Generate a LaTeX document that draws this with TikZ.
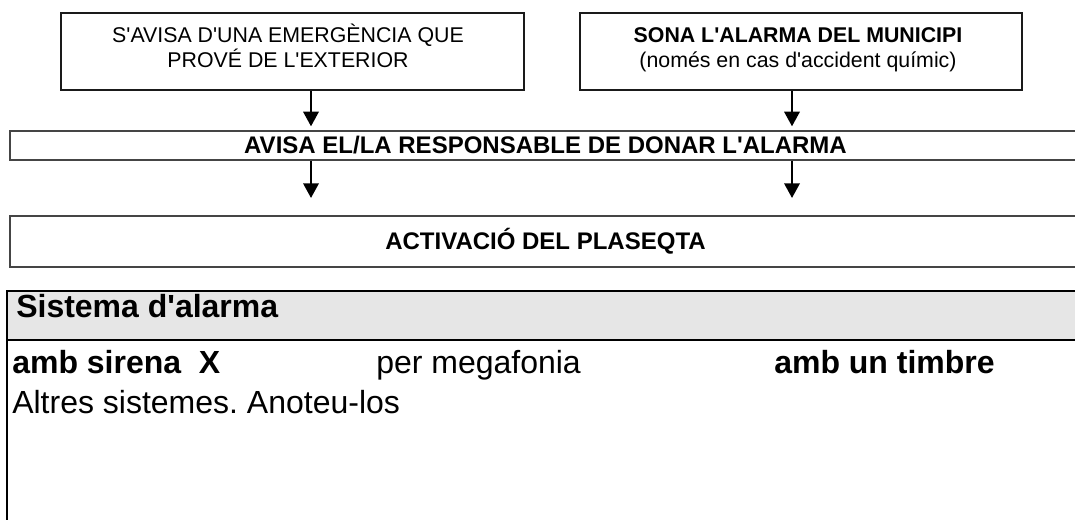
\documentclass[tikz,border=0pt]{standalone}
\usepackage{fontspec}
\setmainfont{Liberation Sans}[Ligatures=TeXOff]
\usetikzlibrary{arrows.meta,positioning}
\definecolor{boxline}{HTML}{1A1A1A}
\definecolor{barline}{HTML}{454545}
\definecolor{headgray}{HTML}{E6E6E6}
\frenchspacing
\tikzset{
  srcbox/.style={draw=boxline,line width=1.5pt,minimum height=57.75pt,inner sep=0pt},
  boxtext/.style={align=center,inner sep=0pt,font=\fontsize{16}{18.75}\selectfont},
  barbox/.style={draw=barline,line width=1pt,minimum width=803.25pt,inner sep=0pt,font=\fontsize{18}{21}\selectfont\bfseries},
  flowarrow/.style={line width=1.8pt,-{Triangle[length=11pt,width=11.5pt]}},
  tablerule/.style={line width=2pt},
  celltext/.style={anchor=base west,inner sep=0pt,font=\fontsize{24}{28}\selectfont}
}

\begin{document}
\begin{tikzpicture}[x=0.75pt,y=-0.75pt]
  \useasboundingbox (0,0) rectangle (1075,519);
  \clip (0,0) rectangle (1075,519);
  % where the alarm comes from
  \node[srcbox,minimum width=347.25pt] (extern) at (292.5,51.5) {};
  \node[srcbox,minimum width=331.5pt] (municipi) at (801,51.5) {};
  \node[boxtext,anchor=base] (externtxt) at (288,67) {S'AVISA D'UNA EMERGÈNCIA QUE\\PROVÉ DE L'EXTERIOR};
  \node[boxtext,anchor=base] (municipitxt) at (798,67) {\textbf{SONA L'ALARMA DEL MUNICIPI}\\(només en cas d'accident químic)};
  % full width bars
  \node[barbox,minimum height=21.75pt] (responsable) at (545.5,145.5) {AVISA EL/LA RESPONSABLE DE DONAR L'ALARMA};
  \node[barbox,minimum height=38.25pt] (plaseqta) at (545.5,241.5) {ACTIVACIÓ DEL PLASEQTA};
  % arrows
  \coordinate (colA) at (311,0);
  \coordinate (colB) at (792,0);
  \coordinate (endA) at (311,198);
  \coordinate (endB) at (792,198);
  \draw[flowarrow,shorten >=3pt] (extern.south -| colA) -- (responsable.north -| colA);
  \draw[flowarrow,shorten >=3pt] (municipi.south -| colB) -- (responsable.north -| colB);
  \draw[flowarrow] (responsable.south -| colA) -- (endA);
  \draw[flowarrow] (responsable.south -| colB) -- (endB);
  % table
  \fill[headgray] (7,291) rectangle (1080,340);
  \draw[tablerule] (1080,291) -- (7,291) -- (7,525);
  \draw[tablerule] (7,340) -- (1080,340);
  \node[celltext] (syshead) at (16,317) {\textbf{Sistema d'alarma}};
  \node[celltext] (sirena) at (12,373) {\textbf{amb sirena\ \ X}};
  \node[celltext] (megafonia) at (376,373) {per megafonia};
  \node[celltext] (timbre) at (774,373) {\textbf{amb un timbre}};
  \node[celltext] (altres) at (12,413) {Altres sistemes. Anoteu-los};
\end{tikzpicture}
\end{document}
